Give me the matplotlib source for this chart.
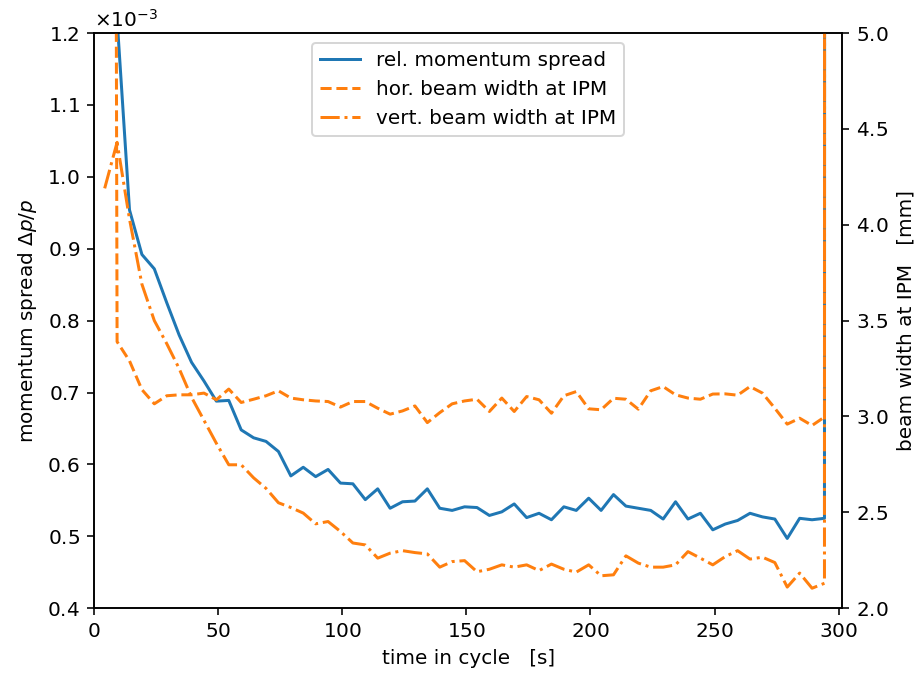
import matplotlib
matplotlib.use("Agg")
from matplotlib import pyplot as plt

plt.rcParams['axes.formatter.use_mathtext'] = True

# Zeitpunkte im Zyklus [s], alle 5 s; letzter Punkt = Ende des Zyklus
time = [4.3, 9.3, 14.3, 19.3, 24.3, 29.3, 34.3, 39.3, 44.3, 49.3,
        54.3, 59.3, 64.3, 69.3, 74.3, 79.3, 84.3, 89.3, 94.3, 99.3,
        104.3, 109.3, 114.3, 119.3, 124.3, 129.3, 134.3, 139.3, 144.3, 149.3,
        154.3, 159.3, 164.3, 169.3, 174.3, 179.3, 184.3, 189.3, 194.3, 199.3,
        204.3, 209.3, 214.3, 219.3, 224.3, 229.3, 234.3, 239.3, 244.3, 249.3,
        254.3, 259.3, 264.3, 269.3, 274.3, 279.3, 284.3, 289.3, 294.3, 294.6]

# rel. Impulsbreite dp/p (x 1e-3)
dpp = [1.60, 1.22, 0.954, 0.892, 0.872, 0.825, 0.780, 0.742, 0.716, 0.688,
       0.689, 0.648, 0.637, 0.632, 0.618, 0.584, 0.596, 0.583, 0.593, 0.574,
       0.573, 0.551, 0.566, 0.539, 0.548, 0.549, 0.566, 0.539, 0.536, 0.541,
       0.540, 0.529, 0.534, 0.545, 0.526, 0.532, 0.523, 0.541, 0.536, 0.553,
       0.536, 0.558, 0.542, 0.539, 0.536, 0.524, 0.548, 0.524, 0.532, 0.509,
       0.517, 0.522, 0.532, 0.527, 0.524, 0.497, 0.525, 0.523, 0.525, 5.0]

# Strahlbreite am IPM [mm]
hor = [30.0, 3.39, 3.29, 3.14, 3.066, 3.108, 3.113, 3.113, 3.122, 3.087,
       3.143, 3.073, 3.09, 3.108, 3.134, 3.096, 3.087, 3.081, 3.078, 3.049,
       3.078, 3.078, 3.043, 3.012, 3.029, 3.055, 2.968, 3.02, 3.066, 3.081,
       3.09, 3.026, 3.096, 3.026, 3.104, 3.087, 3.017, 3.108, 3.13, 3.04,
       3.035, 3.095, 3.09, 3.038, 3.134, 3.156, 3.113, 3.096, 3.09, 3.117,
       3.118, 3.111, 3.156, 3.122, 3.043, 2.96, 2.991, 2.953, 2.997, 30.0]

vert = [4.19, 4.43, 4.03, 3.69, 3.50, 3.38, 3.25, 3.10, 2.98, 2.86,
        2.748, 2.748, 2.68, 2.625, 2.55, 2.525, 2.496, 2.44, 2.452, 2.40,
        2.34, 2.33, 2.261, 2.287, 2.30, 2.29, 2.283, 2.214, 2.243, 2.248,
        2.19, 2.203, 2.226, 2.214, 2.226, 2.196, 2.23, 2.203, 2.188, 2.226,
        2.169, 2.174, 2.273, 2.235, 2.214, 2.214, 2.226, 2.295, 2.261, 2.226,
        2.269, 2.30, 2.256, 2.266, 2.238, 2.11, 2.183, 2.104, 2.13, 30.0]


def render():
    fig, ax = plt.subplots(figsize=(6.4, 4.6875), dpi=144)
    fig.subplots_adjust(left=0.102, right=0.914, top=0.951, bottom=0.099)

    l1, = ax.plot(time, [v * 1e-3 for v in dpp], color='C0',
                  label='rel. momentum spread')
    ax.set_xlim(0, 301.5)
    ax.set_ylim(0.4e-3, 1.2e-3)
    ax.ticklabel_format(axis='y', style='sci', scilimits=(-3, -3))
    ax.set_xlabel('time in cycle   [s]')
    ax.set_ylabel(r'momentum spread $\Delta p/p$')

    ax2 = ax.twinx()
    l2, = ax2.plot(time, hor, '--', color='C1', label='hor. beam width at IPM')
    l3, = ax2.plot(time, vert, '-.', color='C1', label='vert. beam width at IPM')
    ax2.set_ylim(2.0, 5.0)
    ax2.set_ylabel('beam width at IPM   [mm]')

    ax.legend(handles=[l1, l2, l3], loc='upper center')
    fig.savefig('out.png', dpi=144)


if __name__ == "__main__":
    render()
